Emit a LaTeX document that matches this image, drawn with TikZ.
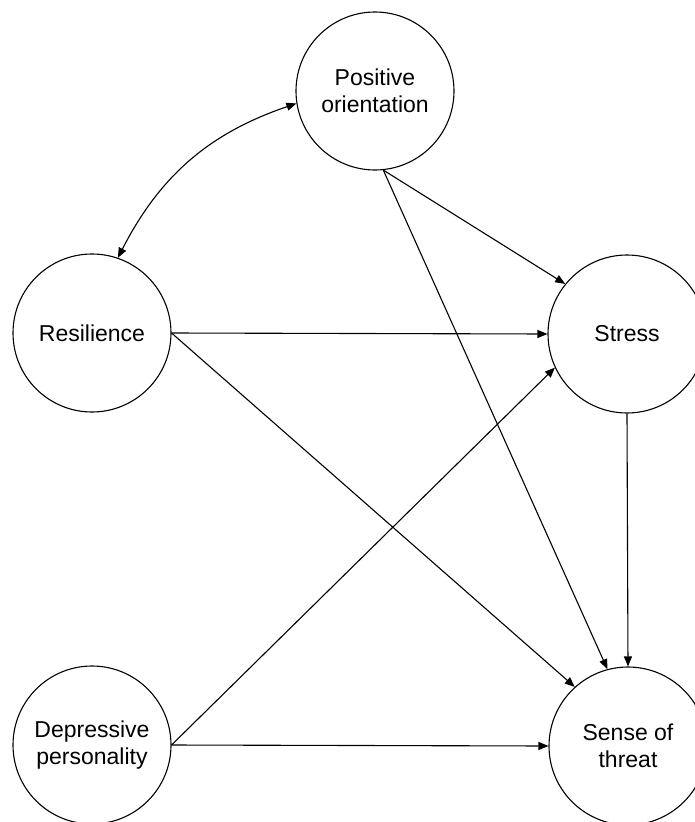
\documentclass[tikz,border=0pt]{standalone}
\usepackage{fontspec}
\setmainfont{Liberation Sans}
\usetikzlibrary{arrows.meta}
\begin{document}
\begin{tikzpicture}[x=1pt,y=-1pt,
  var/.style={draw,circle,line width=1.1pt,minimum size=158pt,inner sep=0pt,align=center,font=\fontsize{23}{27}\selectfont},
  link/.style={line width=1.1pt,-{Triangle[length=10pt,width=8pt]}},
  dlink/.style={line width=1.1pt,{Triangle[length=10pt,width=8pt]}-{Triangle[length=10pt,width=8pt]}}]
\useasboundingbox (0,0) rectangle (695,822);
\node[var] (po) at (375,91) {Positive\\orientation};
\node[var] (res) at (92,333) {Resilience};
\node[var] (str) at (627,334) {Stress};
\node[var] (dep) at (92,745) {Depressive\\personality};
\node[var] (sot) at (628,746) {Sense of\\threat};
\draw[dlink] (res.71) to[bend left=22] (po.189);
\draw[link] (po.-84) -- (str.141);
\draw[link] (po.-84) -- (sot.105);
\draw[link] (res.east) -- (str.west);
\draw[link] (res.east) -- (sot.132);
\draw[link] (str.south) -- (sot.north);
\draw[link] (dep.east) -- (str.205);
\draw[link] (dep.east) -- (sot.west);
\end{tikzpicture}
\end{document}
